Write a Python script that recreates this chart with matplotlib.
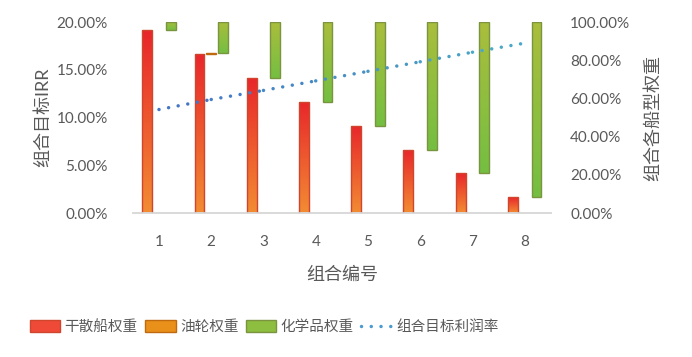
import numpy as np
import matplotlib
matplotlib.use("Agg")
import matplotlib.pyplot as plt
from matplotlib.patches import Patch
from matplotlib.lines import Line2D
from matplotlib.colors import LinearSegmentedColormap, to_rgb

plt.rcParams['font.family'] = ['Lato', 'Noto Sans CJK SC', 'DejaVu Sans']

categories = ["1", "2", "3", "4", "5", "6", "7", "8"]
dry_bulk = [95.8, 83.3, 70.8, 58.3, 45.8, 33.3, 20.8, 8.3]      # % weight
oil = [0.0, 0.3, 0.0, 0.0, 0.0, 0.0, 0.0, 0.0]                  # % weight
chem = [4.2, 16.4, 29.2, 41.7, 54.2, 66.7, 79.2, 91.7]          # % weight
irr = [10.85, 11.9, 12.85, 13.85, 14.85, 15.85, 16.85, 17.8]    # % target IRR

left_ticks = [0, 5, 10, 15, 20]
right_ticks = [0, 20, 40, 60, 80, 100]

TXT = '#595959'
fig = plt.figure(figsize=(6.92, 3.57), dpi=100)
ax = fig.add_axes([0.192, 0.403, 0.604, 0.535])
ax2 = ax.twinx()
ax.set_zorder(ax2.get_zorder() + 1)
ax.patch.set_visible(False)

x = np.arange(1, len(categories) + 1)
w = 0.19
off = 0.225


def grad_bars(axis, xs, bottoms, heights, c_top, c_bot, edge):
    cmap = LinearSegmentedColormap.from_list('g', [c_bot, c_top])
    grad = np.linspace(0, 1, 256).reshape(-1, 1)
    xs = np.asarray(xs, float)
    bottoms = np.asarray(bottoms, float)
    heights = np.asarray(heights, float)
    keep = heights > 0
    bars = axis.bar(xs[keep], heights[keep], width=w, bottom=bottoms[keep],
                    color='none', edgecolor=edge, linewidth=1.0, zorder=3)
    for b in bars:
        x0, y0 = b.get_x(), b.get_y()
        im = axis.imshow(grad, cmap=cmap, origin='lower', aspect='auto',
                         extent=[x0, x0 + b.get_width(), y0, y0 + b.get_height()],
                         zorder=2)
        im.set_clip_path(b)
    return bars


grad_bars(ax2, x - off, [0] * len(x), dry_bulk, '#E8262B', '#F28C33', '#D0452E')
grad_bars(ax2, x, dry_bulk, oil, '#D07A10', '#F0B020', '#C06A10')
chem_bottom = [d + o for d, o in zip(dry_bulk, oil)]
grad_bars(ax2, x + off, chem_bottom, chem, '#ABBD3C', '#74BF42', '#7A9440')

# dotted gradient line
c0, c1 = np.array(to_rgb('#4472C4')), np.array(to_rgb('#4BACC6'))
n = len(x)
for i in range(n - 1):
    t = (i + 0.5) / (n - 1)
    col = c0 * (1 - t) + c1 * t
    ax.plot(x[i:i + 2], irr[i:i + 2], color=col, linewidth=2.5,
            linestyle=(0, (0.01, 2.8)), dash_capstyle='round', zorder=5)

ax.set_xlim(0.5, 8.5)
ax.set_ylim(0, 20)
ax2.set_ylim(0, 100)
ax.set_xticks(x)
ax.set_xticklabels(categories)
ax.set_yticks(left_ticks)
ax.set_yticklabels([f"{v:.2f}%" for v in left_ticks])
ax2.set_yticks(right_ticks)
ax2.set_yticklabels([f"{v:.2f}%" for v in right_ticks])

for a in (ax, ax2):
    for s in ('top', 'left', 'right'):
        a.spines[s].set_visible(False)
    a.spines['bottom'].set_color('#D9D9D9')
    a.spines['bottom'].set_linewidth(1.2)
    a.tick_params(length=0, labelsize=11, colors=TXT)
ax.tick_params(axis='y', pad=18)
ax.tick_params(axis='x', pad=16)
ax2.tick_params(axis='y', pad=14)

ax.set_ylabel('组合目标IRR', fontsize=13, color=TXT, labelpad=4)
ax2.set_ylabel('组合各船型权重', fontsize=13, color=TXT, labelpad=10)
ax.set_xlabel('组合编号', fontsize=13, color=TXT, labelpad=12)

handles = [
    Patch(facecolor='#EE4A37', edgecolor='#D0452E', label='干散船权重'),
    Patch(facecolor='#E8901A', edgecolor='#C06A10', label='油轮权重'),
    Patch(facecolor='#8DBE3F', edgecolor='#7A9440', label='化学品权重'),
    Line2D([0], [0], color='#4A9BD0', linewidth=2.5, linestyle=(0, (0.01, 2.8)),
           dash_capstyle='round', label='组合目标利润率'),
]
fig.legend(handles=handles, loc='center', bbox_to_anchor=(264 / 692, 1 - 327 / 357),
           ncol=4, frameon=False, fontsize=10.5, labelcolor=TXT,
           handlelength=2.1, handleheight=0.8, handletextpad=0.3, columnspacing=0.5)

fig.savefig('out.png', dpi=100)
